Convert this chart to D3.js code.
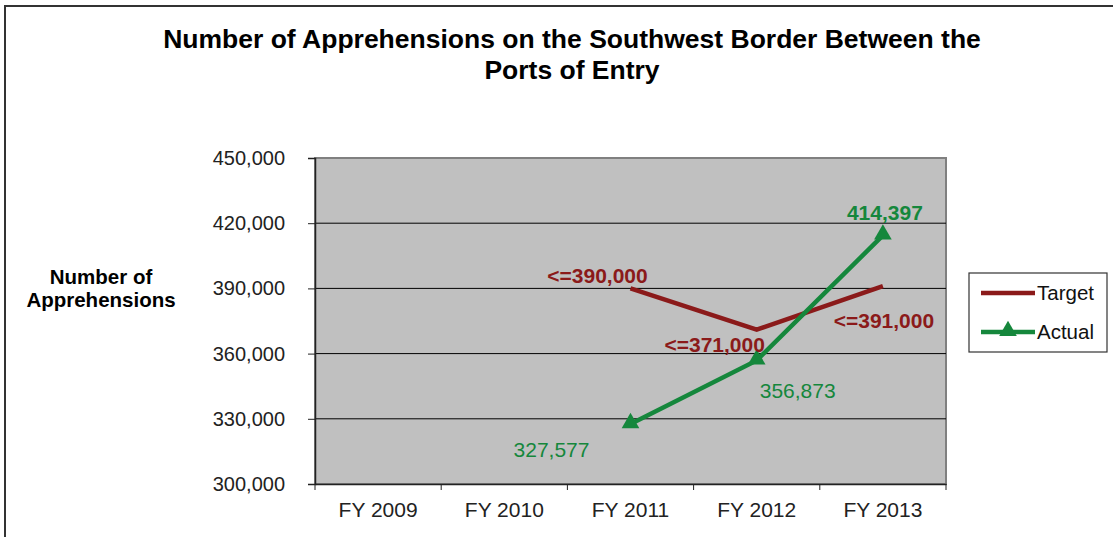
<!DOCTYPE html>
<html>
<head>
<meta charset="utf-8">
<script src="https://cdn.jsdelivr.net/npm/d3@7"></script>
<style>
  html, body { margin: 0; padding: 0; background: #fff; }
  svg { display: block; font-family: "Liberation Sans", Arial, sans-serif; }
</style>
</head>
<body>
<svg id="chart" width="1113" height="537"></svg>
<script>
// Fiscal years on the category axis
const categories = ["FY 2009", "FY 2010", "FY 2011", "FY 2012", "FY 2013"];
// Target (upper limit) and actual apprehensions; null where no value exists
const targetValues = [null, null, 390000, 371000, 391000];
const actualValues = [null, null, 327577, 356873, 414397];
// Printed text for each data label
const targetLabels = [null, null, "<=390,000", "<=371,000", "<=391,000"];
const actualLabels = [null, null, "327,577", "356,873", "414,397"];
// Value-axis ticks
const yTicks = [300000, 330000, 360000, 390000, 420000, 450000];

// Label placement relative to each point (dx, dy) and weight
const targetLabelStyle = [null, null, {dx: -33, dy: -5}, {dx: -42, dy: 22}, {dx: 1, dy: 42}];
const actualLabelStyle = [null, null, {dx: -79, dy: 33, bold: false}, {dx: 41, dy: 38, bold: false}, {dx: 2, dy: -15, bold: true}];

const targetColor = "#8b1a1a";
const actualColor = "#15873c";
const FONT = "Liberation Sans, Arial, sans-serif";

const svg = d3.select("#chart");
const plot = {left: 315, right: 946, top: 158, bottom: 484};

// Outer chart frame (top and left edges visible)
svg.append("path")
  .attr("d", "M5,537 L5,6 L1113,6")
  .attr("fill", "none").attr("stroke", "#333").attr("stroke-width", 2);

const x = d3.scaleBand().domain(categories).range([plot.left, plot.right]).padding(0);
const y = d3.scaleLinear().domain([300000, 450000]).range([plot.bottom, plot.top]);

// Plot background
svg.append("rect")
  .attr("x", plot.left).attr("y", plot.top)
  .attr("width", plot.right - plot.left).attr("height", plot.bottom - plot.top)
  .attr("fill", "#c0c0c0").attr("stroke", "#808080").attr("stroke-width", 2);

// Horizontal gridlines
svg.append("g").selectAll("line").data(yTicks.slice(1, -1)).join("line")
  .attr("x1", plot.left).attr("x2", plot.right)
  .attr("y1", d => y(d)).attr("y2", d => y(d))
  .attr("stroke", "#000").attr("stroke-width", 1);

// Value axis
const yAxis = svg.append("g").attr("transform", `translate(${plot.left},0)`)
  .call(d3.axisLeft(y).tickValues(yTicks).tickFormat(d3.format(",")).tickSize(7).tickPadding(23));
yAxis.select(".domain").attr("stroke", "#222").attr("stroke-width", 1.5);
yAxis.selectAll(".tick line").attr("stroke", "#222");
yAxis.selectAll("text").attr("font-size", 20).attr("fill", "#222").attr("font-family", FONT);

// Category axis: ticks sit on band boundaries
const xAxis = svg.append("g").attr("transform", `translate(0,${plot.bottom})`)
  .call(d3.axisBottom(x).tickSize(0).tickPadding(18));
xAxis.select(".domain").attr("stroke", "#222").attr("stroke-width", 1.5);
xAxis.selectAll("text").attr("font-size", 21).attr("fill", "#222").attr("font-family", FONT);
const boundaries = categories.map(c => x(c)).concat([x(categories[categories.length - 1]) + x.bandwidth()]);
svg.append("g").selectAll("line").data(boundaries).join("line")
  .attr("x1", d => d).attr("x2", d => d)
  .attr("y1", plot.bottom).attr("y2", plot.bottom + 6)
  .attr("stroke", "#222");

const cx = c => x(c) + x.bandwidth() / 2;

// Series lines
const line = d3.line().defined(d => d.v != null).x(d => cx(d.c)).y(d => y(d.v));
const targetData = categories.map((c, i) => ({c, v: targetValues[i]}));
const actualData = categories.map((c, i) => ({c, v: actualValues[i]}));

svg.append("path").datum(targetData).attr("d", line)
  .attr("fill", "none").attr("stroke", targetColor).attr("stroke-width", 4.5);
svg.append("path").datum(actualData).attr("d", line)
  .attr("fill", "none").attr("stroke", actualColor).attr("stroke-width", 4.5);

// Triangle markers on the actual series
const tri = d3.symbol().type(d3.symbolTriangle).size(135);
svg.append("g").selectAll("path").data(actualData.filter(d => d.v != null)).join("path")
  .attr("d", tri)
  .attr("transform", d => `translate(${cx(d.c)},${y(d.v) - 1})`)
  .attr("fill", actualColor);

// Data labels
const tGroup = svg.append("g");
targetData.forEach((d, i) => {
  if (d.v == null) return;
  const s = targetLabelStyle[i];
  tGroup.append("text")
    .attr("x", cx(d.c) + s.dx).attr("y", y(d.v) + s.dy)
    .attr("text-anchor", "middle").attr("font-size", 21).attr("font-weight", "bold")
    .attr("fill", targetColor).text(targetLabels[i]);
});
const aGroup = svg.append("g");
actualData.forEach((d, i) => {
  if (d.v == null) return;
  const s = actualLabelStyle[i];
  aGroup.append("text")
    .attr("x", cx(d.c) + s.dx).attr("y", y(d.v) + s.dy)
    .attr("text-anchor", "middle").attr("font-size", 21)
    .attr("font-weight", s.bold ? "bold" : "normal")
    .attr("fill", actualColor).text(actualLabels[i]);
});

// Title
const title = svg.append("text").attr("text-anchor", "middle").attr("font-size", 26.5)
  .attr("font-weight", "bold").attr("fill", "#000");
title.append("tspan").attr("x", 572).attr("y", 48).text("Number of Apprehensions on the Southwest Border Between the");
title.append("tspan").attr("x", 572).attr("y", 79).text("Ports of Entry");

// Value-axis title
const yTitle = svg.append("text").attr("text-anchor", "middle").attr("font-size", 20.5)
  .attr("font-weight", "bold").attr("fill", "#000");
yTitle.append("tspan").attr("x", 101).attr("y", 284).text("Number of");
yTitle.append("tspan").attr("x", 101).attr("y", 307).text("Apprehensions");

// Legend
const legend = svg.append("g");
legend.append("rect").attr("x", 969).attr("y", 273).attr("width", 138).attr("height", 79)
  .attr("fill", "#fff").attr("stroke", "#333").attr("stroke-width", 1.2);
const legendItems = [
  {name: "Target", color: targetColor, marker: false, y: 293},
  {name: "Actual", color: actualColor, marker: true, y: 332}
];
legendItems.forEach(it => {
  legend.append("line").attr("x1", 981).attr("x2", 1035).attr("y1", it.y).attr("y2", it.y)
    .attr("stroke", it.color).attr("stroke-width", 4.5);
  if (it.marker) {
    legend.append("path").attr("d", tri).attr("transform", `translate(1008,${it.y - 1})`)
      .attr("fill", it.color);
  }
  legend.append("text").attr("x", 1037).attr("y", it.y + 7).attr("font-size", 20.5)
    .attr("fill", "#111").text(it.name);
});
</script>
</body>
</html>
